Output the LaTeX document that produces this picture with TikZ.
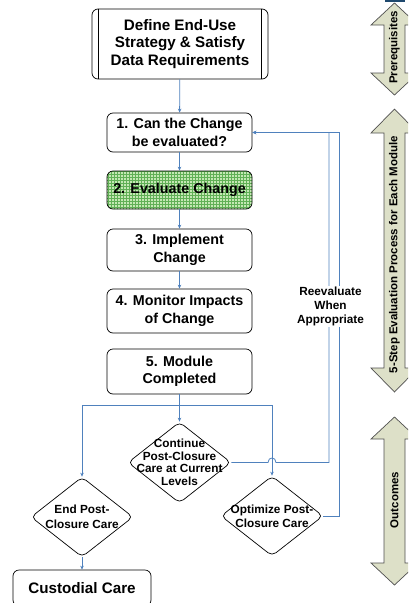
\documentclass[tikz,border=0pt]{standalone}
\usepackage{fontspec}
\setmainfont{Liberation Sans}
\usetikzlibrary{shapes.geometric,arrows.meta,patterns}
\definecolor{flowblue}{RGB}{79,129,189}
\definecolor{arrfill}{RGB}{221,224,200}
\definecolor{arrline}{RGB}{80,80,80}
\definecolor{gridbg}{RGB}{196,232,180}
\definecolor{gridfg}{RGB}{96,176,86}
\definecolor{topbar}{RGB}{31,73,110}
\begin{document}
\begin{tikzpicture}[x=1pt,y=-1pt,
    box/.style={draw, rounded corners=6pt, line width=0.7pt, minimum width=145pt,
      align=center, inner sep=0pt, font=\bfseries\fontsize{14.3}{17.5}\selectfont},
    dia/.style={draw, shape=diamond, rounded corners=5pt, line width=0.7pt,
      minimum width=102pt, minimum height=80pt, inner sep=0pt},
    dtext/.style={align=center, inner sep=0pt, font=\bfseries\fontsize{11.8}{12.5}\selectfont},
    flow/.style={draw=flowblue, line width=0.8pt, -{Stealth[length=4pt,width=3.5pt]}}]
      \useasboundingbox (0,0) rectangle (408,603);
      \clip (0,0) rectangle (408,603);
      % left column
      \node[box, minimum width=176pt, minimum height=70pt, font=\bfseries\fontsize{15.2}{17.5}\selectfont]
        (top) at (180,44) {Define End-Use\\Strategy \& Satisfy\\Data Requirements};
      \draw[line width=0.7pt] ([xshift=7pt]top.north west) -- ([xshift=7pt]top.south west)
        ([xshift=-7pt]top.north east) -- ([xshift=-7pt]top.south east);
      \node[box, minimum height=39pt] (s1) at (179.5,132.5) {1. Can the Change\\be evaluated?};
      \node[box, minimum height=38pt, preaction={fill=gridbg}, pattern=grid, pattern color=gridfg]
        (s2) at (179.5,190) {2. Evaluate Change};
      \node[box, minimum height=42pt] (s3) at (179.5,250) {3. Implement\\Change};
      \node[box, minimum height=44pt] (s4) at (179.5,311) {4. Monitor Impacts\\of Change};
      \node[box, minimum height=45pt] (s5) at (179.5,371.5) {5. Module\\Completed};
      \foreach \a/\b in {top/s1, s1/s2, s2/s3, s3/s4}{
        \draw[flow] (\a) -- (\b);
      }
      % outcomes
      \node[dia, minimum width=103pt, minimum height=81pt] (cont) at (179.5,462.5) {};
      \node[dtext] (contT) at (cont) {Continue\\Post-Closure\\Care at Current\\Levels};
      \node[dia] (endpc) at (82,517) {};
      \node[dtext, font=\bfseries\fontsize{11.8}{15}\selectfont] (endT) at (endpc) {End Post-\\Closure Care};
      \node[dia] (optpc) at (272,516) {};
      \node[dtext, font=\bfseries\fontsize{11.8}{14}\selectfont] (optT) at (optpc) {Optimize Post-\\Closure Care};
      \node[box, minimum width=138pt, minimum height=36pt, font=\bfseries\fontsize{15.2}{18}\selectfont]
        (cust) at (82,588) {Custodial Care};
      \coordinate (br) at (179.5,405);
      \draw[flow] (s5) -- (cont);
      \draw[flow] (br) -| (endpc.north);
      \draw[flow] (br) -| (optpc.north);
      \draw[flow] (endpc) -- (cust);
      % feedback loops
      \coordinate (rA) at (329,0);
      \coordinate (rB) at (339,0);
      \draw[flow] (cont.east) -- ([xshift=-4pt]cont.east -| optpc.north)
        .. controls +(0,-6) and +(0,-6) .. ([xshift=4pt]cont.east -| optpc.north)
        -- (cont.east -| rA) |- (s1.east);
      \draw[flow] (optpc.east) -- (optpc.east -| rB) |- (s1.east);
      \node[fill=white, align=center, inner sep=1pt, font=\bfseries\fontsize{11.8}{14}\selectfont]
        (reev) at (330.5,306) {Reevaluate\\When\\Appropriate};
      % phase arrows on the right
      \fill[topbar] (385,0) rectangle (405,1.5);
      \foreach \n/\ya/\yb/\hl/\ty/\t in {A/3/95/22/47.5/Prerequisites,
                                         B/109/392/24/254.5/5-Step Evaluation Process for Each Module,
                                         C/417/585/22/500/Outcomes}{
        \filldraw[fill=arrfill, draw=arrline, line width=0.7pt]
          (394.5,\ya) -- (418,\ya+\hl) -- (405,\ya+\hl) -- (405,\yb-\hl) -- (418,\yb-\hl)
          -- (394.5,\yb) -- (371,\yb-\hl) -- (384,\yb-\hl) -- (384,\ya+\hl) -- (371,\ya+\hl) -- cycle;
        \node[rotate=90, inner sep=0pt, font=\bfseries\fontsize{11.5}{13}\selectfont] (\n) at (394.5,\ty) {\t};
      }
\end{tikzpicture}
\end{document}
